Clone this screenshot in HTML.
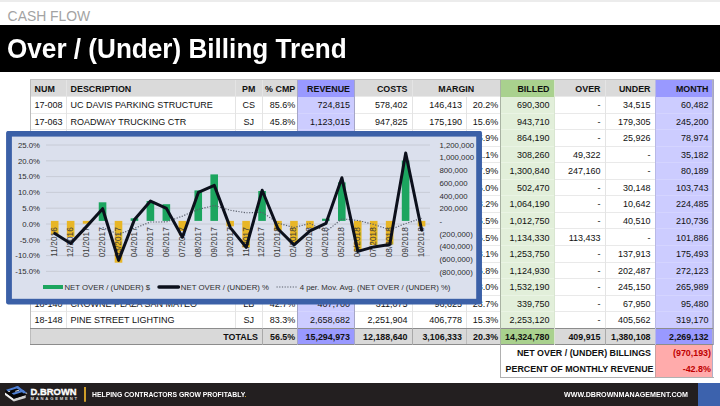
<!DOCTYPE html>
<html><head><meta charset="utf-8"><title>Over / (Under) Billing Trend</title>
<style>
html,body{margin:0;padding:0;}
body{width:720px;height:406px;position:relative;overflow:hidden;background:#fff;font-family:"Liberation Sans",sans-serif;}
.abs{position:absolute}
.c{position:absolute;box-sizing:border-box;font-size:9px;color:#111;white-space:nowrap;overflow:visible}
.b{font-weight:700;font-size:8.9px}
.red{color:#c00000}
.bg,.ln{position:absolute}
.ax{font-family:"Liberation Sans",sans-serif;font-size:7.8px;fill:#2e2e2e}
</style></head><body>
<div class="abs" style="left:0;top:0;width:720px;height:1.5px;background:#ececec"></div>
<div class="abs" style="left:7.6px;top:7px;height:18px;line-height:18px;font-size:13.9px;color:#a3a3a3;white-space:nowrap">CASH FLOW</div>
<div class="abs" style="left:0;top:25.3px;width:720px;height:46.4px;background:#000"></div>
<div class="abs" style="left:7.2px;top:32.7px;height:32px;line-height:32px;font-size:26.8px;font-weight:700;color:#fff;white-space:nowrap;transform-origin:0 50%;transform:scaleX(.975)">Over / (Under) Billing Trend</div>
<div class="bg" style="left:30px;top:80.0px;width:683px;height:16.5px;background:#dadada"></div>
<div class="bg" style="left:30px;top:328.20px;width:683px;height:16.55px;background:#d9d9d9"></div>
<div class="bg" style="left:297.5px;top:328.20px;width:57.0px;height:16.55px;background:#9999ff"></div>
<div class="bg" style="left:500.5px;top:328.20px;width:53.5px;height:16.55px;background:#a9d18e"></div>
<div class="bg" style="left:655px;top:328.20px;width:58px;height:16.55px;background:#9999ff"></div>
<div class="bg" style="left:655px;top:344.75px;width:58px;height:33.10px;background:#ffabab"></div>
<div class="ln" style="left:30px;top:96.00px;width:683px;height:1px;background:#e9e9e9"></div>
<div class="ln" style="left:30px;top:112.55px;width:683px;height:1px;background:#e9e9e9"></div>
<div class="ln" style="left:30px;top:129.10px;width:683px;height:1px;background:#e9e9e9"></div>
<div class="ln" style="left:30px;top:145.65px;width:683px;height:1px;background:#e9e9e9"></div>
<div class="ln" style="left:30px;top:162.20px;width:683px;height:1px;background:#e9e9e9"></div>
<div class="ln" style="left:30px;top:178.75px;width:683px;height:1px;background:#e9e9e9"></div>
<div class="ln" style="left:30px;top:195.30px;width:683px;height:1px;background:#e9e9e9"></div>
<div class="ln" style="left:30px;top:211.85px;width:683px;height:1px;background:#e9e9e9"></div>
<div class="ln" style="left:30px;top:228.40px;width:683px;height:1px;background:#e9e9e9"></div>
<div class="ln" style="left:30px;top:244.95px;width:683px;height:1px;background:#e9e9e9"></div>
<div class="ln" style="left:30px;top:261.50px;width:683px;height:1px;background:#e9e9e9"></div>
<div class="ln" style="left:30px;top:278.05px;width:683px;height:1px;background:#e9e9e9"></div>
<div class="ln" style="left:30px;top:294.60px;width:683px;height:1px;background:#e9e9e9"></div>
<div class="ln" style="left:30px;top:311.15px;width:683px;height:1px;background:#e9e9e9"></div>
<div class="bg" style="left:297.5px;top:80.0px;width:57.0px;height:16.5px;background:#9999ff"></div>
<div class="bg" style="left:297.5px;top:96.5px;width:57.0px;height:231.70px;background:#ccccff"></div>
<div class="bg" style="left:500.5px;top:80.0px;width:53.5px;height:16.5px;background:#a9d18e"></div>
<div class="bg" style="left:500.5px;top:96.5px;width:53.5px;height:231.70px;background:#e2efda"></div>
<div class="bg" style="left:655px;top:80.0px;width:58px;height:16.5px;background:#9999ff"></div>
<div class="bg" style="left:655px;top:96.5px;width:58px;height:231.70px;background:#ccccff"></div>
<div class="ln" style="left:297.5px;top:112.55px;width:57.0px;height:1px;background:#d4d4ff"></div>
<div class="ln" style="left:297.5px;top:129.10px;width:57.0px;height:1px;background:#d4d4ff"></div>
<div class="ln" style="left:297.5px;top:145.65px;width:57.0px;height:1px;background:#d4d4ff"></div>
<div class="ln" style="left:297.5px;top:162.20px;width:57.0px;height:1px;background:#d4d4ff"></div>
<div class="ln" style="left:297.5px;top:178.75px;width:57.0px;height:1px;background:#d4d4ff"></div>
<div class="ln" style="left:297.5px;top:195.30px;width:57.0px;height:1px;background:#d4d4ff"></div>
<div class="ln" style="left:297.5px;top:211.85px;width:57.0px;height:1px;background:#d4d4ff"></div>
<div class="ln" style="left:297.5px;top:228.40px;width:57.0px;height:1px;background:#d4d4ff"></div>
<div class="ln" style="left:297.5px;top:244.95px;width:57.0px;height:1px;background:#d4d4ff"></div>
<div class="ln" style="left:297.5px;top:261.50px;width:57.0px;height:1px;background:#d4d4ff"></div>
<div class="ln" style="left:297.5px;top:278.05px;width:57.0px;height:1px;background:#d4d4ff"></div>
<div class="ln" style="left:297.5px;top:294.60px;width:57.0px;height:1px;background:#d4d4ff"></div>
<div class="ln" style="left:297.5px;top:311.15px;width:57.0px;height:1px;background:#d4d4ff"></div>
<div class="ln" style="left:500.5px;top:112.55px;width:53.5px;height:1px;background:#eaf4e4"></div>
<div class="ln" style="left:500.5px;top:129.10px;width:53.5px;height:1px;background:#eaf4e4"></div>
<div class="ln" style="left:500.5px;top:145.65px;width:53.5px;height:1px;background:#eaf4e4"></div>
<div class="ln" style="left:500.5px;top:162.20px;width:53.5px;height:1px;background:#eaf4e4"></div>
<div class="ln" style="left:500.5px;top:178.75px;width:53.5px;height:1px;background:#eaf4e4"></div>
<div class="ln" style="left:500.5px;top:195.30px;width:53.5px;height:1px;background:#eaf4e4"></div>
<div class="ln" style="left:500.5px;top:211.85px;width:53.5px;height:1px;background:#eaf4e4"></div>
<div class="ln" style="left:500.5px;top:228.40px;width:53.5px;height:1px;background:#eaf4e4"></div>
<div class="ln" style="left:500.5px;top:244.95px;width:53.5px;height:1px;background:#eaf4e4"></div>
<div class="ln" style="left:500.5px;top:261.50px;width:53.5px;height:1px;background:#eaf4e4"></div>
<div class="ln" style="left:500.5px;top:278.05px;width:53.5px;height:1px;background:#eaf4e4"></div>
<div class="ln" style="left:500.5px;top:294.60px;width:53.5px;height:1px;background:#eaf4e4"></div>
<div class="ln" style="left:500.5px;top:311.15px;width:53.5px;height:1px;background:#eaf4e4"></div>
<div class="ln" style="left:655px;top:112.55px;width:58px;height:1px;background:#d4d4ff"></div>
<div class="ln" style="left:655px;top:129.10px;width:58px;height:1px;background:#d4d4ff"></div>
<div class="ln" style="left:655px;top:145.65px;width:58px;height:1px;background:#d4d4ff"></div>
<div class="ln" style="left:655px;top:162.20px;width:58px;height:1px;background:#d4d4ff"></div>
<div class="ln" style="left:655px;top:178.75px;width:58px;height:1px;background:#d4d4ff"></div>
<div class="ln" style="left:655px;top:195.30px;width:58px;height:1px;background:#d4d4ff"></div>
<div class="ln" style="left:655px;top:211.85px;width:58px;height:1px;background:#d4d4ff"></div>
<div class="ln" style="left:655px;top:228.40px;width:58px;height:1px;background:#d4d4ff"></div>
<div class="ln" style="left:655px;top:244.95px;width:58px;height:1px;background:#d4d4ff"></div>
<div class="ln" style="left:655px;top:261.50px;width:58px;height:1px;background:#d4d4ff"></div>
<div class="ln" style="left:655px;top:278.05px;width:58px;height:1px;background:#d4d4ff"></div>
<div class="ln" style="left:655px;top:294.60px;width:58px;height:1px;background:#d4d4ff"></div>
<div class="ln" style="left:655px;top:311.15px;width:58px;height:1px;background:#d4d4ff"></div>
<div class="ln" style="left:29.5px;top:80.0px;width:1px;height:248.20px;background:#e4e4e4"></div>
<div class="ln" style="left:65.5px;top:80.0px;width:1px;height:248.20px;background:#e4e4e4"></div>
<div class="ln" style="left:234.5px;top:80.0px;width:1px;height:248.20px;background:#e4e4e4"></div>
<div class="ln" style="left:262.0px;top:80.0px;width:1px;height:248.20px;background:#e4e4e4"></div>
<div class="ln" style="left:297.0px;top:80.0px;width:1px;height:248.20px;background:#e4e4e4"></div>
<div class="ln" style="left:354.0px;top:80.0px;width:1px;height:248.20px;background:#e4e4e4"></div>
<div class="ln" style="left:411.5px;top:80.0px;width:1px;height:248.20px;background:#e4e4e4"></div>
<div class="ln" style="left:465.5px;top:96.5px;width:1px;height:231.70px;background:#e4e4e4"></div>
<div class="ln" style="left:465.5px;top:328.20px;width:1px;height:16.55px;background:#bdbdbd"></div>
<div class="ln" style="left:500.0px;top:80.0px;width:1px;height:248.20px;background:#e4e4e4"></div>
<div class="ln" style="left:553.5px;top:80.0px;width:1px;height:248.20px;background:#e4e4e4"></div>
<div class="ln" style="left:604.5px;top:80.0px;width:1px;height:248.20px;background:#e4e4e4"></div>
<div class="ln" style="left:654.5px;top:80.0px;width:1px;height:248.20px;background:#e4e4e4"></div>
<div class="ln" style="left:712.5px;top:80.0px;width:1px;height:248.20px;background:#e4e4e4"></div>
<div class="ln" style="left:29.5px;top:79.0px;width:684px;height:1px;background:#c4c4c4"></div>
<div class="ln" style="left:29.5px;top:80.0px;width:1px;height:264.75px;background:#bcbcbc"></div>
<div class="ln" style="left:712px;top:80.0px;width:1px;height:297.85px;background:#b0b0c8"></div>
<div class="ln" style="left:30px;top:327.70px;width:683px;height:1px;background:#8c8c8c"></div>
<div class="ln" style="left:30px;top:344.25px;width:683px;height:1px;background:#8c8c8c"></div>
<div class="ln" style="left:262.0px;top:328.20px;width:1px;height:16.55px;background:#a9a9a9"></div>
<div class="ln" style="left:297.0px;top:328.20px;width:1px;height:16.55px;background:#a9a9a9"></div>
<div class="ln" style="left:354.0px;top:328.20px;width:1px;height:16.55px;background:#a9a9a9"></div>
<div class="ln" style="left:411.5px;top:328.20px;width:1px;height:16.55px;background:#a9a9a9"></div>
<div class="ln" style="left:500.0px;top:328.20px;width:1px;height:16.55px;background:#a9a9a9"></div>
<div class="ln" style="left:553.5px;top:328.20px;width:1px;height:16.55px;background:#a9a9a9"></div>
<div class="ln" style="left:604.5px;top:328.20px;width:1px;height:16.55px;background:#a9a9a9"></div>
<div class="ln" style="left:654.5px;top:328.20px;width:1px;height:16.55px;background:#a9a9a9"></div>
<div class="ln" style="left:297.0px;top:80.0px;width:1px;height:264.75px;background:#a6a6c6"></div>
<div class="ln" style="left:354.0px;top:80.0px;width:1px;height:264.75px;background:#a6a6c6"></div>
<div class="ln" style="left:500.0px;top:80.0px;width:1px;height:264.75px;background:#a9b3a3"></div>
<div class="ln" style="left:553.5px;top:80.0px;width:1px;height:264.75px;background:#d9e6d1"></div>
<div class="ln" style="left:654.5px;top:80.0px;width:1px;height:264.75px;background:#b9b9e6"></div>
<div class="ln" style="left:712.5px;top:80.0px;width:1px;height:264.75px;background:#a6a6c6"></div>
<div class="ln" style="left:500.0px;top:344.75px;width:1px;height:33.10px;background:#b0b0b0"></div>
<div class="ln" style="left:500.0px;top:377.35px;width:213.5px;height:1px;background:#b0b0b0"></div>
<div class="ln" style="left:654.5px;top:344.75px;width:1px;height:33.10px;background:#c9a0a0"></div>
<div class="c b" style="left:30px;top:80.60px;width:36px;height:16.50px;line-height:16.50px;text-align:left;padding-left:4.6px;">NUM</div>
<div class="c b" style="left:66px;top:80.60px;width:169px;height:16.50px;line-height:16.50px;text-align:left;padding-left:4.6px;">DESCRIPTION</div>
<div class="c b" style="left:235px;top:80.60px;width:27.5px;height:16.50px;line-height:16.50px;text-align:center;">PM</div>
<div class="c b" style="left:262.5px;top:80.60px;width:35.0px;height:16.50px;line-height:16.50px;text-align:right;padding-right:2.3px;">% CMP</div>
<div class="c b" style="left:297.5px;top:80.60px;width:57.0px;height:16.50px;line-height:16.50px;text-align:right;padding-right:4.5px;">REVENUE</div>
<div class="c b" style="left:354.5px;top:80.60px;width:57.5px;height:16.50px;line-height:16.50px;text-align:right;padding-right:4.5px;">COSTS</div>
<div class="c b" style="left:412px;top:80.60px;width:88.5px;height:16.50px;line-height:16.50px;text-align:center;">MARGIN</div>
<div class="c b" style="left:500.5px;top:80.60px;width:53.5px;height:16.50px;line-height:16.50px;text-align:right;padding-right:4.5px;">BILLED</div>
<div class="c b" style="left:554px;top:80.60px;width:51px;height:16.50px;line-height:16.50px;text-align:right;padding-right:4.5px;">OVER</div>
<div class="c b" style="left:605px;top:80.60px;width:50px;height:16.50px;line-height:16.50px;text-align:right;padding-right:4.5px;">UNDER</div>
<div class="c b" style="left:655px;top:80.60px;width:58px;height:16.50px;line-height:16.50px;text-align:right;padding-right:4.5px;">MONTH</div>
<div class="c " style="left:30px;top:97.10px;width:36px;height:16.55px;line-height:16.55px;text-align:left;padding-left:4.6px;">17-008</div>
<div class="c " style="left:66px;top:97.10px;width:169px;height:16.55px;line-height:16.55px;text-align:left;padding-left:4.6px;">UC DAVIS PARKING STRUCTURE</div>
<div class="c " style="left:235px;top:97.10px;width:27.5px;height:16.55px;line-height:16.55px;text-align:center;">CS</div>
<div class="c " style="left:262.5px;top:97.10px;width:35.0px;height:16.55px;line-height:16.55px;text-align:right;padding-right:2.3px;">85.6%</div>
<div class="c " style="left:297.5px;top:97.10px;width:57.0px;height:16.55px;line-height:16.55px;text-align:right;padding-right:4.5px;">724,815</div>
<div class="c " style="left:354.5px;top:97.10px;width:57.5px;height:16.55px;line-height:16.55px;text-align:right;padding-right:4.5px;">578,402</div>
<div class="c " style="left:412px;top:97.10px;width:54px;height:16.55px;line-height:16.55px;text-align:right;padding-right:4.1px;">146,413</div>
<div class="c " style="left:466px;top:97.10px;width:34.5px;height:16.55px;line-height:16.55px;text-align:right;padding-right:2.3px;">20.2%</div>
<div class="c " style="left:500.5px;top:97.10px;width:53.5px;height:16.55px;line-height:16.55px;text-align:right;padding-right:4.5px;">690,300</div>
<div class="c " style="left:554px;top:97.10px;width:51px;height:16.55px;line-height:16.55px;text-align:right;padding-right:4.5px;">-</div>
<div class="c " style="left:605px;top:97.10px;width:50px;height:16.55px;line-height:16.55px;text-align:right;padding-right:4.5px;">34,515</div>
<div class="c " style="left:655px;top:97.10px;width:58px;height:16.55px;line-height:16.55px;text-align:right;padding-right:4.5px;">60,482</div>
<div class="c " style="left:30px;top:113.65px;width:36px;height:16.55px;line-height:16.55px;text-align:left;padding-left:4.6px;">17-063</div>
<div class="c " style="left:66px;top:113.65px;width:169px;height:16.55px;line-height:16.55px;text-align:left;padding-left:4.6px;">ROADWAY TRUCKING CTR</div>
<div class="c " style="left:235px;top:113.65px;width:27.5px;height:16.55px;line-height:16.55px;text-align:center;">SJ</div>
<div class="c " style="left:262.5px;top:113.65px;width:35.0px;height:16.55px;line-height:16.55px;text-align:right;padding-right:2.3px;">45.8%</div>
<div class="c " style="left:297.5px;top:113.65px;width:57.0px;height:16.55px;line-height:16.55px;text-align:right;padding-right:4.5px;">1,123,015</div>
<div class="c " style="left:354.5px;top:113.65px;width:57.5px;height:16.55px;line-height:16.55px;text-align:right;padding-right:4.5px;">947,825</div>
<div class="c " style="left:412px;top:113.65px;width:54px;height:16.55px;line-height:16.55px;text-align:right;padding-right:4.1px;">175,190</div>
<div class="c " style="left:466px;top:113.65px;width:34.5px;height:16.55px;line-height:16.55px;text-align:right;padding-right:2.3px;">15.6%</div>
<div class="c " style="left:500.5px;top:113.65px;width:53.5px;height:16.55px;line-height:16.55px;text-align:right;padding-right:4.5px;">943,710</div>
<div class="c " style="left:554px;top:113.65px;width:51px;height:16.55px;line-height:16.55px;text-align:right;padding-right:4.5px;">-</div>
<div class="c " style="left:605px;top:113.65px;width:50px;height:16.55px;line-height:16.55px;text-align:right;padding-right:4.5px;">179,305</div>
<div class="c " style="left:655px;top:113.65px;width:58px;height:16.55px;line-height:16.55px;text-align:right;padding-right:4.5px;">245,200</div>
<div class="c " style="left:30px;top:130.20px;width:36px;height:16.55px;line-height:16.55px;text-align:left;padding-left:4.6px;">17-071</div>
<div class="c " style="left:66px;top:130.20px;width:169px;height:16.55px;line-height:16.55px;text-align:left;padding-left:4.6px;">MERCY GENERAL TI</div>
<div class="c " style="left:235px;top:130.20px;width:27.5px;height:16.55px;line-height:16.55px;text-align:center;">CS</div>
<div class="c " style="left:262.5px;top:130.20px;width:35.0px;height:16.55px;line-height:16.55px;text-align:right;padding-right:2.3px;">72.4%</div>
<div class="c " style="left:297.5px;top:130.20px;width:57.0px;height:16.55px;line-height:16.55px;text-align:right;padding-right:4.5px;">1,193,650</div>
<div class="c " style="left:354.5px;top:130.20px;width:57.5px;height:16.55px;line-height:16.55px;text-align:right;padding-right:4.5px;">1,003,860</div>
<div class="c " style="left:412px;top:130.20px;width:54px;height:16.55px;line-height:16.55px;text-align:right;padding-right:4.1px;">189,790</div>
<div class="c " style="left:466px;top:130.20px;width:34.5px;height:16.55px;line-height:16.55px;text-align:right;padding-right:2.3px;">15.9%</div>
<div class="c " style="left:500.5px;top:130.20px;width:53.5px;height:16.55px;line-height:16.55px;text-align:right;padding-right:4.5px;">864,190</div>
<div class="c " style="left:554px;top:130.20px;width:51px;height:16.55px;line-height:16.55px;text-align:right;padding-right:4.5px;">-</div>
<div class="c " style="left:605px;top:130.20px;width:50px;height:16.55px;line-height:16.55px;text-align:right;padding-right:4.5px;">25,926</div>
<div class="c " style="left:655px;top:130.20px;width:58px;height:16.55px;line-height:16.55px;text-align:right;padding-right:4.5px;">78,974</div>
<div class="c " style="left:30px;top:146.75px;width:36px;height:16.55px;line-height:16.55px;text-align:left;padding-left:4.6px;">17-082</div>
<div class="c " style="left:66px;top:146.75px;width:169px;height:16.55px;line-height:16.55px;text-align:left;padding-left:4.6px;">ELK GROVE RETAIL</div>
<div class="c " style="left:235px;top:146.75px;width:27.5px;height:16.55px;line-height:16.55px;text-align:center;">LB</div>
<div class="c " style="left:262.5px;top:146.75px;width:35.0px;height:16.55px;line-height:16.55px;text-align:right;padding-right:2.3px;">64.0%</div>
<div class="c " style="left:297.5px;top:146.75px;width:57.0px;height:16.55px;line-height:16.55px;text-align:right;padding-right:4.5px;">481,660</div>
<div class="c " style="left:354.5px;top:146.75px;width:57.5px;height:16.55px;line-height:16.55px;text-align:right;padding-right:4.5px;">428,195</div>
<div class="c " style="left:412px;top:146.75px;width:54px;height:16.55px;line-height:16.55px;text-align:right;padding-right:4.1px;">53,465</div>
<div class="c " style="left:466px;top:146.75px;width:34.5px;height:16.55px;line-height:16.55px;text-align:right;padding-right:2.3px;">11.1%</div>
<div class="c " style="left:500.5px;top:146.75px;width:53.5px;height:16.55px;line-height:16.55px;text-align:right;padding-right:4.5px;">308,260</div>
<div class="c " style="left:554px;top:146.75px;width:51px;height:16.55px;line-height:16.55px;text-align:right;padding-right:4.5px;">49,322</div>
<div class="c " style="left:605px;top:146.75px;width:50px;height:16.55px;line-height:16.55px;text-align:right;padding-right:4.5px;">-</div>
<div class="c " style="left:655px;top:146.75px;width:58px;height:16.55px;line-height:16.55px;text-align:right;padding-right:4.5px;">35,182</div>
<div class="c " style="left:30px;top:163.30px;width:36px;height:16.55px;line-height:16.55px;text-align:left;padding-left:4.6px;">17-095</div>
<div class="c " style="left:66px;top:163.30px;width:169px;height:16.55px;line-height:16.55px;text-align:left;padding-left:4.6px;">SUTTER MOB</div>
<div class="c " style="left:235px;top:163.30px;width:27.5px;height:16.55px;line-height:16.55px;text-align:center;">SJ</div>
<div class="c " style="left:262.5px;top:163.30px;width:35.0px;height:16.55px;line-height:16.55px;text-align:right;padding-right:2.3px;">58.3%</div>
<div class="c " style="left:297.5px;top:163.30px;width:57.0px;height:16.55px;line-height:16.55px;text-align:right;padding-right:4.5px;">2,231,290</div>
<div class="c " style="left:354.5px;top:163.30px;width:57.5px;height:16.55px;line-height:16.55px;text-align:right;padding-right:4.5px;">1,831,890</div>
<div class="c " style="left:412px;top:163.30px;width:54px;height:16.55px;line-height:16.55px;text-align:right;padding-right:4.1px;">399,400</div>
<div class="c " style="left:466px;top:163.30px;width:34.5px;height:16.55px;line-height:16.55px;text-align:right;padding-right:2.3px;">17.9%</div>
<div class="c " style="left:500.5px;top:163.30px;width:53.5px;height:16.55px;line-height:16.55px;text-align:right;padding-right:4.5px;">1,300,840</div>
<div class="c " style="left:554px;top:163.30px;width:51px;height:16.55px;line-height:16.55px;text-align:right;padding-right:4.5px;">247,160</div>
<div class="c " style="left:605px;top:163.30px;width:50px;height:16.55px;line-height:16.55px;text-align:right;padding-right:4.5px;">-</div>
<div class="c " style="left:655px;top:163.30px;width:58px;height:16.55px;line-height:16.55px;text-align:right;padding-right:4.5px;">80,189</div>
<div class="c " style="left:30px;top:179.85px;width:36px;height:16.55px;line-height:16.55px;text-align:left;padding-left:4.6px;">17-101</div>
<div class="c " style="left:66px;top:179.85px;width:169px;height:16.55px;line-height:16.55px;text-align:left;padding-left:4.6px;">FOLSOM LAKE SCHOOL</div>
<div class="c " style="left:235px;top:179.85px;width:27.5px;height:16.55px;line-height:16.55px;text-align:center;">CS</div>
<div class="c " style="left:262.5px;top:179.85px;width:35.0px;height:16.55px;line-height:16.55px;text-align:right;padding-right:2.3px;">35.9%</div>
<div class="c " style="left:297.5px;top:179.85px;width:57.0px;height:16.55px;line-height:16.55px;text-align:right;padding-right:4.5px;">1,399,640</div>
<div class="c " style="left:354.5px;top:179.85px;width:57.5px;height:16.55px;line-height:16.55px;text-align:right;padding-right:4.5px;">1,175,700</div>
<div class="c " style="left:412px;top:179.85px;width:54px;height:16.55px;line-height:16.55px;text-align:right;padding-right:4.1px;">223,940</div>
<div class="c " style="left:466px;top:179.85px;width:34.5px;height:16.55px;line-height:16.55px;text-align:right;padding-right:2.3px;">16.0%</div>
<div class="c " style="left:500.5px;top:179.85px;width:53.5px;height:16.55px;line-height:16.55px;text-align:right;padding-right:4.5px;">502,470</div>
<div class="c " style="left:554px;top:179.85px;width:51px;height:16.55px;line-height:16.55px;text-align:right;padding-right:4.5px;">-</div>
<div class="c " style="left:605px;top:179.85px;width:50px;height:16.55px;line-height:16.55px;text-align:right;padding-right:4.5px;">30,148</div>
<div class="c " style="left:655px;top:179.85px;width:58px;height:16.55px;line-height:16.55px;text-align:right;padding-right:4.5px;">103,743</div>
<div class="c " style="left:30px;top:196.40px;width:36px;height:16.55px;line-height:16.55px;text-align:left;padding-left:4.6px;">17-114</div>
<div class="c " style="left:66px;top:196.40px;width:169px;height:16.55px;line-height:16.55px;text-align:left;padding-left:4.6px;">RANCHO CORDOVA WWTP</div>
<div class="c " style="left:235px;top:196.40px;width:27.5px;height:16.55px;line-height:16.55px;text-align:center;">LB</div>
<div class="c " style="left:262.5px;top:196.40px;width:35.0px;height:16.55px;line-height:16.55px;text-align:right;padding-right:2.3px;">67.2%</div>
<div class="c " style="left:297.5px;top:196.40px;width:57.0px;height:16.55px;line-height:16.55px;text-align:right;padding-right:4.5px;">1,583,615</div>
<div class="c " style="left:354.5px;top:196.40px;width:57.5px;height:16.55px;line-height:16.55px;text-align:right;padding-right:4.5px;">1,374,580</div>
<div class="c " style="left:412px;top:196.40px;width:54px;height:16.55px;line-height:16.55px;text-align:right;padding-right:4.1px;">209,035</div>
<div class="c " style="left:466px;top:196.40px;width:34.5px;height:16.55px;line-height:16.55px;text-align:right;padding-right:2.3px;">13.2%</div>
<div class="c " style="left:500.5px;top:196.40px;width:53.5px;height:16.55px;line-height:16.55px;text-align:right;padding-right:4.5px;">1,064,190</div>
<div class="c " style="left:554px;top:196.40px;width:51px;height:16.55px;line-height:16.55px;text-align:right;padding-right:4.5px;">-</div>
<div class="c " style="left:605px;top:196.40px;width:50px;height:16.55px;line-height:16.55px;text-align:right;padding-right:4.5px;">10,642</div>
<div class="c " style="left:655px;top:196.40px;width:58px;height:16.55px;line-height:16.55px;text-align:right;padding-right:4.5px;">224,485</div>
<div class="c " style="left:30px;top:212.95px;width:36px;height:16.55px;line-height:16.55px;text-align:left;padding-left:4.6px;">17-126</div>
<div class="c " style="left:66px;top:212.95px;width:169px;height:16.55px;line-height:16.55px;text-align:left;padding-left:4.6px;">CAPITOL MALL TI</div>
<div class="c " style="left:235px;top:212.95px;width:27.5px;height:16.55px;line-height:16.55px;text-align:center;">SJ</div>
<div class="c " style="left:262.5px;top:212.95px;width:35.0px;height:16.55px;line-height:16.55px;text-align:right;padding-right:2.3px;">61.5%</div>
<div class="c " style="left:297.5px;top:212.95px;width:57.0px;height:16.55px;line-height:16.55px;text-align:right;padding-right:4.5px;">1,646,750</div>
<div class="c " style="left:354.5px;top:212.95px;width:57.5px;height:16.55px;line-height:16.55px;text-align:right;padding-right:4.5px;">1,391,505</div>
<div class="c " style="left:412px;top:212.95px;width:54px;height:16.55px;line-height:16.55px;text-align:right;padding-right:4.1px;">255,245</div>
<div class="c " style="left:466px;top:212.95px;width:34.5px;height:16.55px;line-height:16.55px;text-align:right;padding-right:2.3px;">15.5%</div>
<div class="c " style="left:500.5px;top:212.95px;width:53.5px;height:16.55px;line-height:16.55px;text-align:right;padding-right:4.5px;">1,012,750</div>
<div class="c " style="left:554px;top:212.95px;width:51px;height:16.55px;line-height:16.55px;text-align:right;padding-right:4.5px;">-</div>
<div class="c " style="left:605px;top:212.95px;width:50px;height:16.55px;line-height:16.55px;text-align:right;padding-right:4.5px;">40,510</div>
<div class="c " style="left:655px;top:212.95px;width:58px;height:16.55px;line-height:16.55px;text-align:right;padding-right:4.5px;">210,736</div>
<div class="c " style="left:30px;top:229.50px;width:36px;height:16.55px;line-height:16.55px;text-align:left;padding-left:4.6px;">18-015</div>
<div class="c " style="left:66px;top:229.50px;width:169px;height:16.55px;line-height:16.55px;text-align:left;padding-left:4.6px;">NATOMAS DATA CTR</div>
<div class="c " style="left:235px;top:229.50px;width:27.5px;height:16.55px;line-height:16.55px;text-align:center;">CS</div>
<div class="c " style="left:262.5px;top:229.50px;width:35.0px;height:16.55px;line-height:16.55px;text-align:right;padding-right:2.3px;">49.8%</div>
<div class="c " style="left:297.5px;top:229.50px;width:57.0px;height:16.55px;line-height:16.55px;text-align:right;padding-right:4.5px;">2,277,770</div>
<div class="c " style="left:354.5px;top:229.50px;width:57.5px;height:16.55px;line-height:16.55px;text-align:right;padding-right:4.5px;">1,901,940</div>
<div class="c " style="left:412px;top:229.50px;width:54px;height:16.55px;line-height:16.55px;text-align:right;padding-right:4.1px;">375,830</div>
<div class="c " style="left:466px;top:229.50px;width:34.5px;height:16.55px;line-height:16.55px;text-align:right;padding-right:2.3px;">16.5%</div>
<div class="c " style="left:500.5px;top:229.50px;width:53.5px;height:16.55px;line-height:16.55px;text-align:right;padding-right:4.5px;">1,134,330</div>
<div class="c " style="left:554px;top:229.50px;width:51px;height:16.55px;line-height:16.55px;text-align:right;padding-right:4.5px;">113,433</div>
<div class="c " style="left:605px;top:229.50px;width:50px;height:16.55px;line-height:16.55px;text-align:right;padding-right:4.5px;">-</div>
<div class="c " style="left:655px;top:229.50px;width:58px;height:16.55px;line-height:16.55px;text-align:right;padding-right:4.5px;">101,886</div>
<div class="c " style="left:30px;top:246.05px;width:36px;height:16.55px;line-height:16.55px;text-align:left;padding-left:4.6px;">18-033</div>
<div class="c " style="left:66px;top:246.05px;width:169px;height:16.55px;line-height:16.55px;text-align:left;padding-left:4.6px;">WOODLAND FOOD PROC</div>
<div class="c " style="left:235px;top:246.05px;width:27.5px;height:16.55px;line-height:16.55px;text-align:center;">LB</div>
<div class="c " style="left:262.5px;top:246.05px;width:35.0px;height:16.55px;line-height:16.55px;text-align:right;padding-right:2.3px;">55.1%</div>
<div class="c " style="left:297.5px;top:246.05px;width:57.0px;height:16.55px;line-height:16.55px;text-align:right;padding-right:4.5px;">2,275,410</div>
<div class="c " style="left:354.5px;top:246.05px;width:57.5px;height:16.55px;line-height:16.55px;text-align:right;padding-right:4.5px;">1,977,330</div>
<div class="c " style="left:412px;top:246.05px;width:54px;height:16.55px;line-height:16.55px;text-align:right;padding-right:4.1px;">298,080</div>
<div class="c " style="left:466px;top:246.05px;width:34.5px;height:16.55px;line-height:16.55px;text-align:right;padding-right:2.3px;">13.1%</div>
<div class="c " style="left:500.5px;top:246.05px;width:53.5px;height:16.55px;line-height:16.55px;text-align:right;padding-right:4.5px;">1,253,750</div>
<div class="c " style="left:554px;top:246.05px;width:51px;height:16.55px;line-height:16.55px;text-align:right;padding-right:4.5px;">-</div>
<div class="c " style="left:605px;top:246.05px;width:50px;height:16.55px;line-height:16.55px;text-align:right;padding-right:4.5px;">137,913</div>
<div class="c " style="left:655px;top:246.05px;width:58px;height:16.55px;line-height:16.55px;text-align:right;padding-right:4.5px;">175,493</div>
<div class="c " style="left:30px;top:262.60px;width:36px;height:16.55px;line-height:16.55px;text-align:left;padding-left:4.6px;">18-067</div>
<div class="c " style="left:66px;top:262.60px;width:169px;height:16.55px;line-height:16.55px;text-align:left;padding-left:4.6px;">ROSEVILLE AUTO MALL</div>
<div class="c " style="left:235px;top:262.60px;width:27.5px;height:16.55px;line-height:16.55px;text-align:center;">SJ</div>
<div class="c " style="left:262.5px;top:262.60px;width:35.0px;height:16.55px;line-height:16.55px;text-align:right;padding-right:2.3px;">48.6%</div>
<div class="c " style="left:297.5px;top:262.60px;width:57.0px;height:16.55px;line-height:16.55px;text-align:right;padding-right:4.5px;">2,314,670</div>
<div class="c " style="left:354.5px;top:262.60px;width:57.5px;height:16.55px;line-height:16.55px;text-align:right;padding-right:4.5px;">1,925,805</div>
<div class="c " style="left:412px;top:262.60px;width:54px;height:16.55px;line-height:16.55px;text-align:right;padding-right:4.1px;">388,865</div>
<div class="c " style="left:466px;top:262.60px;width:34.5px;height:16.55px;line-height:16.55px;text-align:right;padding-right:2.3px;">16.8%</div>
<div class="c " style="left:500.5px;top:262.60px;width:53.5px;height:16.55px;line-height:16.55px;text-align:right;padding-right:4.5px;">1,124,930</div>
<div class="c " style="left:554px;top:262.60px;width:51px;height:16.55px;line-height:16.55px;text-align:right;padding-right:4.5px;">-</div>
<div class="c " style="left:605px;top:262.60px;width:50px;height:16.55px;line-height:16.55px;text-align:right;padding-right:4.5px;">202,487</div>
<div class="c " style="left:655px;top:262.60px;width:58px;height:16.55px;line-height:16.55px;text-align:right;padding-right:4.5px;">272,123</div>
<div class="c " style="left:30px;top:279.15px;width:36px;height:16.55px;line-height:16.55px;text-align:left;padding-left:4.6px;">18-092</div>
<div class="c " style="left:66px;top:279.15px;width:169px;height:16.55px;line-height:16.55px;text-align:left;padding-left:4.6px;">DAVIS SENIOR HOUSING</div>
<div class="c " style="left:235px;top:279.15px;width:27.5px;height:16.55px;line-height:16.55px;text-align:center;">CS</div>
<div class="c " style="left:262.5px;top:279.15px;width:35.0px;height:16.55px;line-height:16.55px;text-align:right;padding-right:2.3px;">39.2%</div>
<div class="c " style="left:297.5px;top:279.15px;width:57.0px;height:16.55px;line-height:16.55px;text-align:right;padding-right:4.5px;">3,908,650</div>
<div class="c " style="left:354.5px;top:279.15px;width:57.5px;height:16.55px;line-height:16.55px;text-align:right;padding-right:4.5px;">3,205,095</div>
<div class="c " style="left:412px;top:279.15px;width:54px;height:16.55px;line-height:16.55px;text-align:right;padding-right:4.1px;">703,555</div>
<div class="c " style="left:466px;top:279.15px;width:34.5px;height:16.55px;line-height:16.55px;text-align:right;padding-right:2.3px;">18.0%</div>
<div class="c " style="left:500.5px;top:279.15px;width:53.5px;height:16.55px;line-height:16.55px;text-align:right;padding-right:4.5px;">1,532,190</div>
<div class="c " style="left:554px;top:279.15px;width:51px;height:16.55px;line-height:16.55px;text-align:right;padding-right:4.5px;">-</div>
<div class="c " style="left:605px;top:279.15px;width:50px;height:16.55px;line-height:16.55px;text-align:right;padding-right:4.5px;">245,150</div>
<div class="c " style="left:655px;top:279.15px;width:58px;height:16.55px;line-height:16.55px;text-align:right;padding-right:4.5px;">265,989</div>
<div class="c " style="left:30px;top:295.70px;width:36px;height:16.55px;line-height:16.55px;text-align:left;padding-left:4.6px;">18-140</div>
<div class="c " style="left:66px;top:295.70px;width:169px;height:16.55px;line-height:16.55px;text-align:left;padding-left:4.6px;">CROWNE PLAZA SAN MATEO</div>
<div class="c " style="left:235px;top:295.70px;width:27.5px;height:16.55px;line-height:16.55px;text-align:center;">LB</div>
<div class="c " style="left:262.5px;top:295.70px;width:35.0px;height:16.55px;line-height:16.55px;text-align:right;padding-right:2.3px;">42.7%</div>
<div class="c " style="left:297.5px;top:295.70px;width:57.0px;height:16.55px;line-height:16.55px;text-align:right;padding-right:4.5px;">407,700</div>
<div class="c " style="left:354.5px;top:295.70px;width:57.5px;height:16.55px;line-height:16.55px;text-align:right;padding-right:4.5px;">311,075</div>
<div class="c " style="left:412px;top:295.70px;width:54px;height:16.55px;line-height:16.55px;text-align:right;padding-right:4.1px;">96,625</div>
<div class="c " style="left:466px;top:295.70px;width:34.5px;height:16.55px;line-height:16.55px;text-align:right;padding-right:2.3px;">23.7%</div>
<div class="c " style="left:500.5px;top:295.70px;width:53.5px;height:16.55px;line-height:16.55px;text-align:right;padding-right:4.5px;">339,750</div>
<div class="c " style="left:554px;top:295.70px;width:51px;height:16.55px;line-height:16.55px;text-align:right;padding-right:4.5px;">-</div>
<div class="c " style="left:605px;top:295.70px;width:50px;height:16.55px;line-height:16.55px;text-align:right;padding-right:4.5px;">67,950</div>
<div class="c " style="left:655px;top:295.70px;width:58px;height:16.55px;line-height:16.55px;text-align:right;padding-right:4.5px;">95,480</div>
<div class="c " style="left:30px;top:312.25px;width:36px;height:16.55px;line-height:16.55px;text-align:left;padding-left:4.6px;">18-148</div>
<div class="c " style="left:66px;top:312.25px;width:169px;height:16.55px;line-height:16.55px;text-align:left;padding-left:4.6px;">PINE STREET LIGHTING</div>
<div class="c " style="left:235px;top:312.25px;width:27.5px;height:16.55px;line-height:16.55px;text-align:center;">SJ</div>
<div class="c " style="left:262.5px;top:312.25px;width:35.0px;height:16.55px;line-height:16.55px;text-align:right;padding-right:2.3px;">83.3%</div>
<div class="c " style="left:297.5px;top:312.25px;width:57.0px;height:16.55px;line-height:16.55px;text-align:right;padding-right:4.5px;">2,658,682</div>
<div class="c " style="left:354.5px;top:312.25px;width:57.5px;height:16.55px;line-height:16.55px;text-align:right;padding-right:4.5px;">2,251,904</div>
<div class="c " style="left:412px;top:312.25px;width:54px;height:16.55px;line-height:16.55px;text-align:right;padding-right:4.1px;">406,778</div>
<div class="c " style="left:466px;top:312.25px;width:34.5px;height:16.55px;line-height:16.55px;text-align:right;padding-right:2.3px;">15.3%</div>
<div class="c " style="left:500.5px;top:312.25px;width:53.5px;height:16.55px;line-height:16.55px;text-align:right;padding-right:4.5px;">2,253,120</div>
<div class="c " style="left:554px;top:312.25px;width:51px;height:16.55px;line-height:16.55px;text-align:right;padding-right:4.5px;">-</div>
<div class="c " style="left:605px;top:312.25px;width:50px;height:16.55px;line-height:16.55px;text-align:right;padding-right:4.5px;">405,562</div>
<div class="c " style="left:655px;top:312.25px;width:58px;height:16.55px;line-height:16.55px;text-align:right;padding-right:4.5px;">319,170</div>
<div class="c b" style="left:30px;top:328.80px;width:232.5px;height:16.55px;line-height:16.55px;text-align:right;padding-right:4.5px;">TOTALS</div>
<div class="c b" style="left:262.5px;top:328.80px;width:35.0px;height:16.55px;line-height:16.55px;text-align:right;padding-right:2.3px;">56.5%</div>
<div class="c b" style="left:297.5px;top:328.80px;width:57.0px;height:16.55px;line-height:16.55px;text-align:right;padding-right:4.5px;">15,294,973</div>
<div class="c b" style="left:354.5px;top:328.80px;width:57.5px;height:16.55px;line-height:16.55px;text-align:right;padding-right:4.5px;">12,188,640</div>
<div class="c b" style="left:412px;top:328.80px;width:54px;height:16.55px;line-height:16.55px;text-align:right;padding-right:4.1px;">3,106,333</div>
<div class="c b" style="left:466px;top:328.80px;width:34.5px;height:16.55px;line-height:16.55px;text-align:right;padding-right:2.3px;">20.3%</div>
<div class="c b" style="left:500.5px;top:328.80px;width:53.5px;height:16.55px;line-height:16.55px;text-align:right;padding-right:4.5px;">14,324,780</div>
<div class="c b" style="left:554px;top:328.80px;width:51px;height:16.55px;line-height:16.55px;text-align:right;padding-right:4.5px;">409,915</div>
<div class="c b" style="left:605px;top:328.80px;width:50px;height:16.55px;line-height:16.55px;text-align:right;padding-right:4.5px;">1,380,108</div>
<div class="c b" style="left:655px;top:328.80px;width:58px;height:16.55px;line-height:16.55px;text-align:right;padding-right:4.5px;">2,269,132</div>
<div class="c b" style="left:500px;top:344.75px;width:151px;height:16.55px;line-height:16.55px;text-align:right">NET OVER / (UNDER) BILLINGS</div>
<div class="c b" style="left:500px;top:361.30px;width:153.5px;height:16.55px;line-height:16.55px;text-align:right">PERCENT OF MONTHLY REVENUE</div>
<div class="c b red" style="left:655px;top:344.75px;width:56px;height:16.55px;line-height:16.55px;text-align:right">(970,193)</div>
<div class="c b red" style="left:655px;top:361.30px;width:55.8px;height:16.55px;line-height:16.55px;text-align:right">-42.8%</div>
<svg width="720" height="406" viewBox="0 0 720 406" style="position:absolute;left:0;top:0">
<defs><filter id="bl" x="-5%" y="-5%" width="110%" height="110%"><feGaussianBlur stdDeviation="0.6"/></filter></defs>
<rect x="6.2" y="130.9" width="475.7" height="173.60000000000002" rx="2.2" ry="2.2" fill="#3b60a7" filter="url(#bl)"/>
<rect x="6.4" y="131.1" width="475.3" height="172.8" rx="2" ry="2" fill="#3b60a7"/>
<rect x="11.9" y="136.6" width="464.3" height="162.20000000000002" fill="#dbe0ed"/>
<line x1="46" y1="271.40" x2="430" y2="271.40" stroke="#c3c7d1" stroke-width="0.8"/>
<text x="40" y="274.20" text-anchor="end" class="ax">-15.0%</text>
<line x1="46" y1="255.60" x2="430" y2="255.60" stroke="#c3c7d1" stroke-width="0.8"/>
<text x="40" y="258.40" text-anchor="end" class="ax">-10.0%</text>
<line x1="46" y1="239.80" x2="430" y2="239.80" stroke="#c3c7d1" stroke-width="0.8"/>
<text x="40" y="242.60" text-anchor="end" class="ax">-5.0%</text>
<line x1="46" y1="224.00" x2="430" y2="224.00" stroke="#c3c7d1" stroke-width="0.8"/>
<text x="40" y="226.80" text-anchor="end" class="ax">0.0%</text>
<line x1="46" y1="208.20" x2="430" y2="208.20" stroke="#c3c7d1" stroke-width="0.8"/>
<text x="40" y="211.00" text-anchor="end" class="ax">5.0%</text>
<line x1="46" y1="192.40" x2="430" y2="192.40" stroke="#c3c7d1" stroke-width="0.8"/>
<text x="40" y="195.20" text-anchor="end" class="ax">10.0%</text>
<line x1="46" y1="176.60" x2="430" y2="176.60" stroke="#c3c7d1" stroke-width="0.8"/>
<text x="40" y="179.40" text-anchor="end" class="ax">15.0%</text>
<line x1="46" y1="160.80" x2="430" y2="160.80" stroke="#c3c7d1" stroke-width="0.8"/>
<text x="40" y="163.60" text-anchor="end" class="ax">20.0%</text>
<line x1="46" y1="145.00" x2="430" y2="145.00" stroke="#c3c7d1" stroke-width="0.8"/>
<text x="40" y="147.80" text-anchor="end" class="ax">25.0%</text>
<text x="439.4" y="147.70" class="ax">1,200,000</text>
<text x="439.4" y="160.40" class="ax">1,000,000</text>
<text x="439.4" y="173.10" class="ax">800,000</text>
<text x="439.4" y="185.80" class="ax">600,000</text>
<text x="439.4" y="198.50" class="ax">400,000</text>
<text x="439.4" y="211.20" class="ax">200,000</text>
<text x="439.4" y="223.90" class="ax">-</text>
<text x="439.4" y="236.60" class="ax">(200,000)</text>
<text x="439.4" y="249.30" class="ax">(400,000)</text>
<text x="439.4" y="262.00" class="ax">(600,000)</text>
<text x="439.4" y="274.70" class="ax">(800,000)</text>
<rect x="50.90" y="220.90" width="7.6" height="13.40" fill="#e8b626"/>
<rect x="66.85" y="220.90" width="7.6" height="16.10" fill="#e8b626"/>
<rect x="82.80" y="220.90" width="7.6" height="2.80" fill="#e8b626"/>
<rect x="98.75" y="202.30" width="7.6" height="18.60" fill="#1ca55f"/>
<rect x="114.70" y="220.90" width="7.6" height="41.80" fill="#e8b626"/>
<rect x="130.65" y="218.30" width="7.6" height="2.60" fill="#1ca55f"/>
<rect x="146.60" y="201.00" width="7.6" height="19.90" fill="#1ca55f"/>
<rect x="162.55" y="204.20" width="7.6" height="16.70" fill="#1ca55f"/>
<rect x="178.50" y="220.90" width="7.6" height="10.10" fill="#e8b626"/>
<rect x="194.45" y="190.40" width="7.6" height="30.50" fill="#1ca55f"/>
<rect x="210.40" y="174.40" width="7.6" height="46.50" fill="#1ca55f"/>
<rect x="226.35" y="220.90" width="7.6" height="5.40" fill="#e8b626"/>
<rect x="242.30" y="220.90" width="7.6" height="26.60" fill="#e8b626"/>
<rect x="258.25" y="191.00" width="7.6" height="29.90" fill="#1ca55f"/>
<rect x="274.20" y="220.90" width="7.6" height="9.60" fill="#e8b626"/>
<rect x="290.15" y="220.90" width="7.6" height="22.50" fill="#e8b626"/>
<rect x="306.10" y="220.90" width="7.6" height="7.10" fill="#e8b626"/>
<rect x="322.05" y="218.70" width="7.6" height="2.20" fill="#1ca55f"/>
<rect x="338.00" y="182.40" width="7.6" height="38.50" fill="#1ca55f"/>
<rect x="353.95" y="220.90" width="7.6" height="30.10" fill="#e8b626"/>
<rect x="369.90" y="220.90" width="7.6" height="24.10" fill="#e8b626"/>
<rect x="385.85" y="220.90" width="7.6" height="23.60" fill="#e8b626"/>
<rect x="401.80" y="160.60" width="7.6" height="60.30" fill="#1ca55f"/>
<rect x="417.75" y="220.90" width="7.6" height="5.50" fill="#e8b626"/>
<text transform="translate(57.10,227.1) rotate(-90)" text-anchor="end" class="ax" style="font-size:8.35px;fill:#3a3a3a">11/2016</text>
<text transform="translate(73.05,227.1) rotate(-90)" text-anchor="end" class="ax" style="font-size:8.35px;fill:#3a3a3a">12/2016</text>
<text transform="translate(89.00,227.1) rotate(-90)" text-anchor="end" class="ax" style="font-size:8.35px;fill:#3a3a3a">01/2017</text>
<text transform="translate(104.95,227.1) rotate(-90)" text-anchor="end" class="ax" style="font-size:8.35px;fill:#3a3a3a">02/2017</text>
<text transform="translate(120.90,227.1) rotate(-90)" text-anchor="end" class="ax" style="font-size:8.35px;fill:#3a3a3a">03/2017</text>
<text transform="translate(136.85,227.1) rotate(-90)" text-anchor="end" class="ax" style="font-size:8.35px;fill:#3a3a3a">04/2017</text>
<text transform="translate(152.80,227.1) rotate(-90)" text-anchor="end" class="ax" style="font-size:8.35px;fill:#3a3a3a">05/2017</text>
<text transform="translate(168.75,227.1) rotate(-90)" text-anchor="end" class="ax" style="font-size:8.35px;fill:#3a3a3a">06/2017</text>
<text transform="translate(184.70,227.1) rotate(-90)" text-anchor="end" class="ax" style="font-size:8.35px;fill:#3a3a3a">07/2017</text>
<text transform="translate(200.65,227.1) rotate(-90)" text-anchor="end" class="ax" style="font-size:8.35px;fill:#3a3a3a">08/2017</text>
<text transform="translate(216.60,227.1) rotate(-90)" text-anchor="end" class="ax" style="font-size:8.35px;fill:#3a3a3a">09/2017</text>
<text transform="translate(232.55,227.1) rotate(-90)" text-anchor="end" class="ax" style="font-size:8.35px;fill:#3a3a3a">10/2017</text>
<text transform="translate(248.50,227.1) rotate(-90)" text-anchor="end" class="ax" style="font-size:8.35px;fill:#3a3a3a">11/2017</text>
<text transform="translate(264.45,227.1) rotate(-90)" text-anchor="end" class="ax" style="font-size:8.35px;fill:#3a3a3a">12/2017</text>
<text transform="translate(280.40,227.1) rotate(-90)" text-anchor="end" class="ax" style="font-size:8.35px;fill:#3a3a3a">01/2018</text>
<text transform="translate(296.35,227.1) rotate(-90)" text-anchor="end" class="ax" style="font-size:8.35px;fill:#3a3a3a">02/2018</text>
<text transform="translate(312.30,227.1) rotate(-90)" text-anchor="end" class="ax" style="font-size:8.35px;fill:#3a3a3a">03/2018</text>
<text transform="translate(328.25,227.1) rotate(-90)" text-anchor="end" class="ax" style="font-size:8.35px;fill:#3a3a3a">04/2018</text>
<text transform="translate(344.20,227.1) rotate(-90)" text-anchor="end" class="ax" style="font-size:8.35px;fill:#3a3a3a">05/2018</text>
<text transform="translate(360.15,227.1) rotate(-90)" text-anchor="end" class="ax" style="font-size:8.35px;fill:#3a3a3a">06/2018</text>
<text transform="translate(376.10,227.1) rotate(-90)" text-anchor="end" class="ax" style="font-size:8.35px;fill:#3a3a3a">07/2018</text>
<text transform="translate(392.05,227.1) rotate(-90)" text-anchor="end" class="ax" style="font-size:8.35px;fill:#3a3a3a">08/2018</text>
<text transform="translate(408.00,227.1) rotate(-90)" text-anchor="end" class="ax" style="font-size:8.35px;fill:#3a3a3a">09/2018</text>
<text transform="translate(423.95,227.1) rotate(-90)" text-anchor="end" class="ax" style="font-size:8.35px;fill:#3a3a3a">10/2018</text>
<path d="M102.65,227.57 L118.60,234.32 L134.55,228.32 L150.50,222.00 L166.45,221.93 L182.40,216.12 L198.35,209.38 L214.30,205.45 L230.25,210.25 L246.20,212.80 L262.15,212.28 L278.10,223.18 L294.05,227.50 L310.00,223.38 L325.95,231.65 L341.90,218.82 L357.85,220.45 L373.80,224.45 L389.75,229.70 L405.70,223.55 L421.65,218.20" fill="none" stroke="#585d6a" stroke-width="1.15" stroke-dasharray="1.2,1.5"/>
<path d="M54.80,233.40 L70.75,243.40 L86.70,226.40 L102.65,208.70 L118.60,260.40 L134.55,219.40 L150.50,201.10 L166.45,208.40 L182.40,237.20 L198.35,192.40 L214.30,185.40 L230.25,227.60 L246.20,247.40 L262.15,190.30 L278.10,229.00 L294.05,244.90 L310.00,230.90 L325.95,223.40 L341.90,177.70 L357.85,251.40 L373.80,246.90 L389.75,244.40 L405.70,153.10 L421.65,230.00" fill="none" stroke="#0c101c" stroke-width="3" stroke-linejoin="round" stroke-linecap="round"/>
<rect x="43" y="285" width="20" height="4" fill="#1ca55f"/>
<text x="64.4" y="289.8" class="ax">NET OVER / (UNDER) $</text>
<line x1="159" y1="287" x2="178.5" y2="287" stroke="#0c101c" stroke-width="3.4" stroke-linecap="round"/>
<text x="180.8" y="289.8" class="ax">NET OVER / (UNDER) %</text>
<line x1="276.5" y1="287" x2="297" y2="287" stroke="#585d6a" stroke-width="1.15" stroke-dasharray="1.2,1.5"/>
<text x="299.7" y="289.8" class="ax">4 per. Mov. Avg. (NET OVER / (UNDER) %)</text>
</svg>
<div class="abs" style="left:0;top:382.6px;width:720px;height:23.4px;background:#231f20"></div>
<div class="abs" style="left:698px;top:382.6px;width:22px;height:23.4px;background:#3c62ad"></div>
<svg class="abs" style="left:0;top:382px" width="100" height="24" viewBox="0 382 100 24">
<polygon points="5.00,392.30 13.85,398.80 13.85,401.60 5.00,395.10" fill="#f2f2f2"/>
<polygon points="13.85,398.80 25.70,395.10 25.70,397.90 13.85,401.60" fill="#cfcfcf"/>
<polygon points="5.90,389.70 17.75,386.00 26.60,392.50 25.70,395.10 13.85,398.80 5.00,392.30" fill="#050507"/>
<polygon points="7.67,391.00 9.09,390.56 10.33,391.47 8.91,391.91" fill="#f4f4f4"/>
<polygon points="24.98,392.94 26.40,392.50 27.46,393.28 26.04,393.72" fill="#ececec"/>
<polygon points="14.77,391.01 18.33,389.90 19.39,390.68 15.83,391.79" fill="#f4f4f4"/>
<polygon points="5.90,389.70 17.75,386.00 19.70,387.43 7.85,391.13" fill="#4f7fd3"/>
<polygon points="14.91,386.89 17.75,386.00 26.60,392.50 23.76,393.39" fill="#4f7fd3"/>
<polygon points="11.63,393.28 22.88,389.77 25.01,391.33 13.75,394.84" fill="#4f7fd3"/>
<line x1="85" y1="386.9" x2="85" y2="401.8" stroke="#d9a52a" stroke-width="1.9"/>
</svg>
<div class="abs" style="left:30.5px;top:386.2px;height:12px;line-height:12px;font-size:9.4px;font-weight:700;color:#fff;white-space:nowrap;letter-spacing:0.05px;-webkit-text-stroke:0.35px #fff">D.BROWN</div>
<div class="abs" style="left:30.4px;top:395.8px;height:6px;line-height:6px;font-size:4.2px;font-weight:700;color:#dcdcdc;white-space:nowrap;letter-spacing:1.8px">MANAGEMENT</div>
<div class="abs" style="left:92px;top:388.8px;height:12px;line-height:12px;font-size:8.1px;font-weight:700;color:#fff;white-space:nowrap;transform-origin:0 50%;transform:scaleX(.842)">HELPING CONTRACTORS GROW PROFITABLY<span style="color:#d9a52a">.</span></div>
<div class="abs" style="left:563.8px;top:388.9px;height:12px;line-height:12px;font-size:7.7px;font-weight:700;color:#fff;white-space:nowrap;transform-origin:0 50%;transform:scaleX(.925)">WWW.DBROWNMANAGEMENT.COM</div>
</body></html>
